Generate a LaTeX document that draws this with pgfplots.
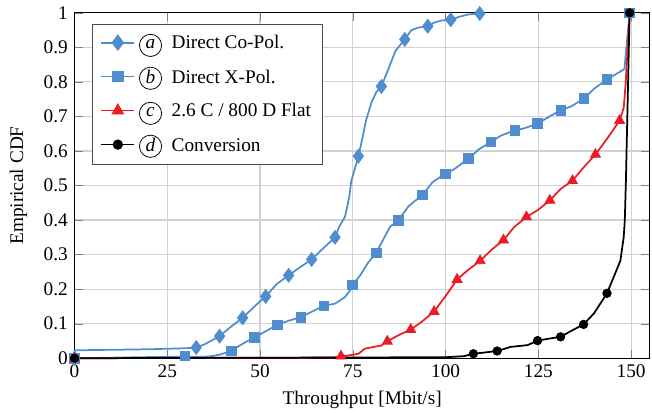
\documentclass[border=0pt]{standalone}
\usepackage{fontspec}
\setmainfont{Liberation Serif}
\usepackage{pgfplots}
\pgfplotsset{compat=1.18}

\definecolor{cblue}{RGB}{79,141,206}
\definecolor{cred}{RGB}{237,28,36}

\newcommand{\circled}[1]{\tikz[baseline=(c.base)]\node[draw,circle,thin,inner sep=0pt,minimum size=11.5pt](c){\textit{#1}};}

% lines
\pgfplotstableread{
x y
0 0
0 0.023
20 0.026
30 0.029
32.8 0.031
35 0.040
39.1 0.064
42 0.090
45.3 0.117
48.5 0.150
51.5 0.179
54.5 0.215
57.7 0.240
61 0.265
63.9 0.286
67 0.318
70.2 0.350
71.3 0.380
72.9 0.410
74.0 0.465
74.6 0.513
76.5 0.585
77.4 0.628
78.6 0.690
80 0.740
81.3 0.770
82.7 0.787
84.5 0.835
86.5 0.890
89.0 0.923
90.8 0.950
92.6 0.957
95.2 0.961
97 0.972
99 0.978
101.4 0.980
103.5 0.988
106 0.995
109.2 0.998
}\lineA
\pgfplotstableread{
x y
0 0
29.7 0.005
33 0.004
36.2 0.005
39 0.010
42.2 0.021
45 0.040
48.5 0.061
51 0.075
54.7 0.097
57.5 0.108
61.0 0.119
64 0.135
67.2 0.152
70.2 0.158
72.9 0.177
74.2 0.196
74.9 0.212
77 0.240
79 0.275
81.3 0.305
83.5 0.350
85 0.380
87.3 0.400
90 0.440
93.8 0.473
96.5 0.510
99.9 0.534
102 0.545
106.2 0.578
109 0.605
112.2 0.626
115 0.645
118.7 0.660
121 0.665
124.8 0.679
128 0.700
131.1 0.718
134 0.730
137.3 0.752
140 0.780
143.5 0.807
148.2 0.837
149.6 1
}\lineB
\pgfplotstableread{
x y
0 0
70 0.002
71.8 0.005
75 0.010
76.5 0.013
78.3 0.028
82.7 0.037
84.3 0.049
87 0.065
90.6 0.083
93.5 0.105
96.9 0.135
100 0.180
103.1 0.228
106 0.255
109.3 0.282
112.5 0.315
115.6 0.342
118.5 0.380
121.8 0.409
125 0.430
128.1 0.457
131 0.490
134.2 0.514
137 0.550
140.4 0.590
143.5 0.635
146.9 0.688
148.0 0.724
148.5 0.790
149.6 1
}\lineC
\pgfplotstableread{
x y
0 0
100 0.003
105 0.006
107.5 0.013
110 0.016
113.9 0.021
117.6 0.033
122.1 0.038
124.8 0.051
128 0.057
131.0 0.062
134 0.080
137.2 0.098
140 0.130
143.5 0.188
145.5 0.240
147.1 0.282
148.0 0.350
148.3 0.398
148.6 0.513
149.6 1
}\lineD

% markers
\pgfplotstableread{
x y
0 0
32.8 0.031
39.1 0.064
45.3 0.117
51.5 0.179
57.7 0.240
63.9 0.286
70.2 0.350
76.5 0.585
82.7 0.787
89.0 0.923
95.2 0.961
101.4 0.980
109.2 0.998
}\markA
\pgfplotstableread{
x y
0 0
29.7 0.007
42.2 0.021
48.5 0.061
54.7 0.097
61.0 0.119
67.2 0.152
74.9 0.212
81.3 0.305
87.3 0.400
93.8 0.473
99.9 0.534
106.2 0.578
112.2 0.626
118.7 0.660
124.8 0.679
131.1 0.718
137.3 0.752
143.5 0.807
149.6 1
}\markB
\pgfplotstableread{
x y
0 0
71.8 0.006
84.3 0.049
90.6 0.083
96.9 0.135
103.1 0.228
109.3 0.282
115.6 0.342
121.8 0.409
128.1 0.457
134.2 0.514
140.4 0.590
146.9 0.688
}\markC
\pgfplotstableread{
x y
0 0
107.5 0.013
113.9 0.021
124.8 0.051
131.0 0.062
137.2 0.098
143.5 0.188
149.6 1
}\markD

\begin{document}
\begin{tikzpicture}
\begin{axis}[
    scale only axis,
    width=298pt, height=179pt,
    xmin=0, xmax=155, ymin=0, ymax=1,
    xtick={0,25,50,75,100,125,150},
    ytick={0,0.1,0.2,0.3,0.4,0.5,0.6,0.7,0.8,0.9,1},
    yticklabel style={/pgf/number format/fixed},
    /pgf/number format/assume math mode=true,
    grid=major,
    major grid style={gray!35, line width=0.6pt},
    xlabel={Throughput [Mbit/s]},
    ylabel={Empirical CDF},
    xlabel style={inner ysep=2pt, yshift=-1pt},
    ylabel style={inner ysep=5pt},
    clip=false,
    legend cell align=left,
    legend style={at={(0.031,0.968)}, anchor=north west, draw=black!70,
        row sep=4pt, inner xsep=4pt, inner ysep=3pt, font=\normalsize},
]
\addplot[cblue, line width=0.9pt, forget plot] table {\lineA};
\addplot[cblue, line width=0.9pt, forget plot] table {\lineB};
\addplot[cred, line width=0.9pt, forget plot] table {\lineC};
\addplot[black, line width=0.9pt, forget plot] table {\lineD};
\addplot[only marks, mark=diamond*, mark size=3.6pt, cblue, forget plot] table {\markA};
\addplot[only marks, mark=square*, mark size=2.5pt, cblue, forget plot] table {\markB};
\addplot[only marks, mark=triangle*, mark size=3pt, cred, forget plot] table {\markC};
\addplot[only marks, mark=*, mark size=2.2pt, black, forget plot] table {\markD};
\addlegendimage{cblue, line width=0.9pt, mark=diamond*, mark size=3.6pt}
\addlegendimage{cblue, line width=0.9pt, mark=square*, mark size=2.5pt}
\addlegendimage{cred, line width=0.9pt, mark=triangle*, mark size=3pt}
\addlegendimage{black, line width=0.9pt, mark=*, mark size=2.2pt}
\legend{{\circled{a}\hspace{5pt}Direct Co-Pol.},
        {\circled{b}\hspace{5pt}Direct X-Pol.},
        {\circled{c}\hspace{5pt}2.6 C / 800 D Flat},
        {\circled{d}\hspace{5pt}Conversion}}
\end{axis}
\end{tikzpicture}
\end{document}
